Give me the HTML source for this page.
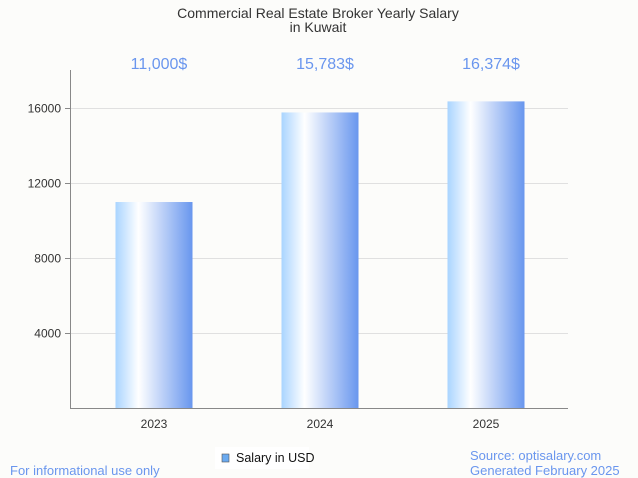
<!DOCTYPE html>
<html><head><meta charset="utf-8">
<style>
body{margin:0;background:#fcfcfa;font-family:"Liberation Sans",sans-serif;}
svg{display:block}
</style></head>
<body>
<svg id="chart" width="638" height="478" viewBox="0 0 638 478">
<defs>
<linearGradient id="bg" x1="0" x2="1" y1="0" y2="0">
<stop offset="0" stop-color="#a9d4ff"/>
<stop offset="0.3" stop-color="#ffffff"/>
<stop offset="1" stop-color="#6896ee"/>
</linearGradient>
</defs>
<rect width="638" height="478" fill="#fcfcfa"/>
<text x="318" y="18" text-anchor="middle" font-size="14" fill="#333">Commercial Real Estate Broker Yearly Salary</text>
<text x="318" y="32" text-anchor="middle" font-size="14" fill="#333">in Kuwait</text>
<g id="grid"></g>
<g id="bars"></g>
<line x1="70.5" y1="70" x2="70.5" y2="408.5" stroke="#888"/>
<line x1="70" y1="408.5" x2="568" y2="408.5" stroke="#888"/>
<rect x="215" y="447" width="94" height="22" fill="#fff"/>
<rect x="222" y="454" width="7" height="8" fill="#6aaaf0" stroke="#555" stroke-width="0.6"/>
<text x="236" y="462" font-size="12.5" fill="#111">Salary in USD</text>
<text x="10" y="475" font-size="13" fill="#6a96ee">For informational use only</text>
<text x="470" y="460" font-size="13" fill="#6a96ee">Source: optisalary.com</text>
<text x="470" y="475" font-size="13" fill="#6a96ee">Generated February 2025</text>
</svg>
<script>
const categories = ["2023","2024","2025"];
const values = [11000,15783,16374];
const valueLabels = ["11,000$","15,783$","16,374$"];
const yTicks = [4000,8000,12000,16000];
const yTickLabels = ["4000","8000","12000","16000"];

const NS="http://www.w3.org/2000/svg";
const x0=70,x1=568,yBase=408,yTop=70,yMax=18050;
const y=v=>yBase-(v/yMax)*(yBase-yTop);
const band=(x1-x0)/categories.length;
const xc=i=>x0+band*(i+0.5)+1;
const bw=77;
function mk(t,a){const e=document.createElementNS(NS,t);for(const k in a)e.setAttribute(k,a[k]);return e;}
const grid=document.getElementById('grid'),bars=document.getElementById('bars');
yTicks.forEach((t,i)=>{
  const yy=Math.round(y(t))+0.5;
  const l=mk('line',{x1:x0,x2:x1,y1:yy,y2:yy,stroke:'#e0e0e0'});
  
  
  grid.appendChild(l);
  const tk=mk('line',{x1:x0-5,x2:x0,y1:yy,y2:yy,stroke:'#888'});
  
  
  grid.appendChild(tk);
  const tx=mk('text',{x:x0-9,y:yy+4,'text-anchor':'end','font-size':12,fill:'#333'});
  tx.textContent=yTickLabels[i];
  
  
  grid.appendChild(tx);
});
categories.forEach((c,i)=>{
  const cx=xc(i),top=y(values[i]);
  const r=mk('rect',{x:cx-bw/2,y:top,width:bw,height:yBase-top,fill:'url(#bg)'});
  
  
  bars.appendChild(r);
  const v=mk('text',{x:cx+5,y:69,'text-anchor':'middle','font-size':16,fill:'#6a96ee'});
  v.textContent=valueLabels[i];
  
  
  bars.appendChild(v);
  const xl=mk('text',{x:cx,y:428,'text-anchor':'middle','font-size':12,fill:'#333'});
  xl.textContent=c;
  
  
  bars.appendChild(xl);
});
</script>
</body></html>
